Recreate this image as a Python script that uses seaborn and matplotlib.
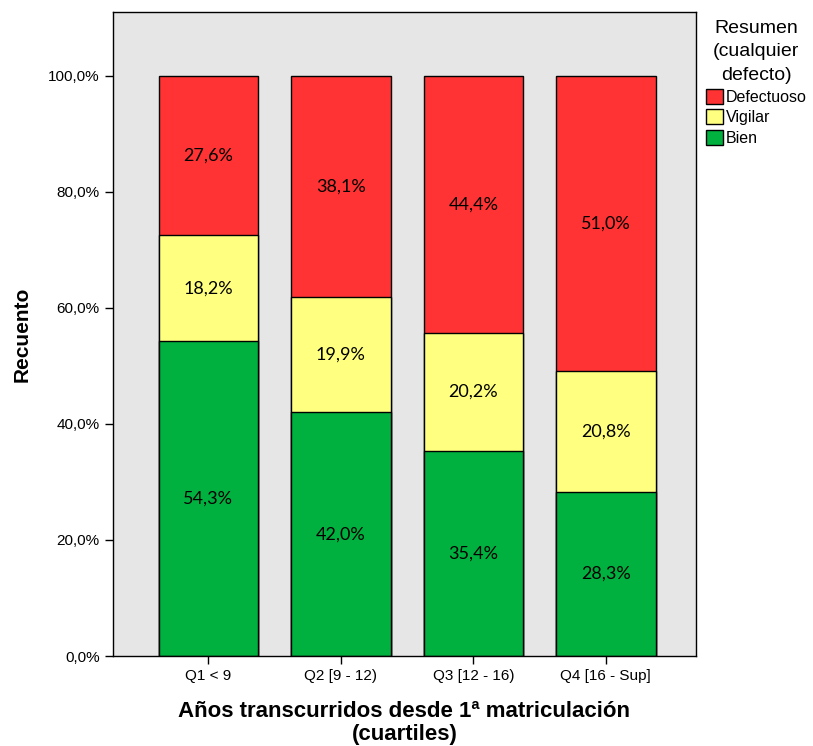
import numpy as np
import pandas as pd
import matplotlib
matplotlib.use("Agg")
import matplotlib.pyplot as plt
import seaborn as sns
from matplotlib.patches import Patch
from matplotlib.ticker import FuncFormatter

sns.set_style("white")
plt.rcParams['font.family'] = ['Liberation Sans', 'DejaVu Sans']
plt.rcParams['text.color'] = 'black'
plt.rcParams['axes.labelcolor'] = 'black'
plt.rcParams['xtick.color'] = 'black'
plt.rcParams['ytick.color'] = 'black'

# Datos
categorias = ["Q1 < 9", "Q2 [9 - 12)", "Q3 [12 - 16)", "Q4 [16 - Sup]"]
bien = [54.3, 42.0, 35.4, 28.3]
vigilar = [18.2, 19.9, 20.2, 20.8]
defectuoso = [27.6, 38.1, 44.4, 51.0]
series = ["Defectuoso", "Vigilar", "Bien"]
colores = {"Defectuoso": "#ff3333", "Vigilar": "#ffff80", "Bien": "#00b140"}

df = pd.DataFrame({"cuartil": categorias, "Bien": bien,
                   "Vigilar": vigilar, "Defectuoso": defectuoso})
df["cum_bien"] = df["Bien"]
df["cum_vigilar"] = df["Bien"] + df["Vigilar"]
df["cum_def"] = (df["cum_vigilar"] + df["Defectuoso"]).clip(upper=100)

fig = plt.figure(figsize=(8.13, 7.46), dpi=100)
ax = fig.add_axes([0.139, 0.1206, 0.717, 0.8634])
ax.set_facecolor("#e6e6e6")

# barras apiladas (de arriba hacia abajo)
for col, serie in [("cum_def", "Defectuoso"), ("cum_vigilar", "Vigilar"), ("cum_bien", "Bien")]:
    sns.barplot(data=df, x="cuartil", y=col, color=colores[serie], saturation=1,
                width=0.75, edgecolor="black", linewidth=1, ax=ax, zorder=2)

# etiquetas
for i in range(len(categorias)):
    b, v, d = bien[i], vigilar[i], defectuoso[i]
    for val, centro in [(b, b / 2), (v, b + v / 2), (d, b + v + d / 2)]:
        ax.text(i, centro, f"{val:.1f}%".replace(".", ","), ha="center", va="center",
                fontsize=13, family=["Lato", "DejaVu Sans"], color="black", zorder=3)

ax.set_xlim(-0.72, 3.68)
ax.set_ylim(0, 111)
ax.set_yticks(np.arange(0, 101, 20))
ax.yaxis.set_major_formatter(FuncFormatter(lambda y, _: f"{y:.1f}%".replace(".", ",")))
ax.tick_params(axis="both", direction="out", length=6, width=1, color="black",
               labelsize=11, left=True, bottom=True)
for s in ax.spines.values():
    s.set_color("black")
    s.set_linewidth(1)

ax.set_ylabel("Recuento", fontsize=15, fontweight="bold", labelpad=12)
ax.set_xlabel("Años transcurridos desde 1ª matriculación\n(cuartiles)",
              fontsize=16, fontweight="bold", labelpad=13, linespacing=1.1)

handles = [Patch(facecolor=colores[s], edgecolor="black", label=s) for s in series]
leg = ax.legend(handles=handles, title="Resumen\n(cualquier\ndefecto)",
                loc="upper left", bbox_to_anchor=(0.998, 1.005), frameon=False,
                fontsize=11.5, title_fontsize=14, handlelength=1.05, handleheight=1.05,
                handletextpad=0.2, labelspacing=0.3, borderpad=0.2)
leg.get_title().set_multialignment("center")
leg.get_title().set_linespacing(1.5)

fig.savefig("out.png", dpi=100)
